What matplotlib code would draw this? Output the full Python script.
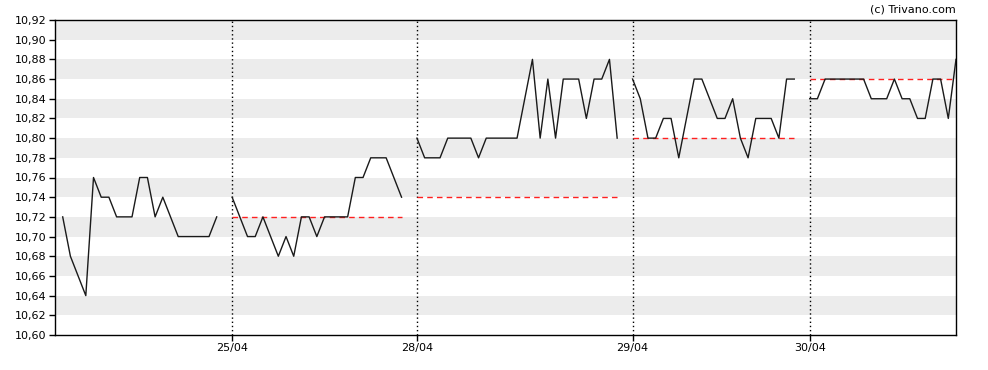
import matplotlib
matplotlib.use("Agg")
import matplotlib.pyplot as plt
import numpy as np

# intraday prices, one list per trading day
day_labels = ["24/04", "25/04", "28/04", "29/04", "30/04"]
day1 = [10.72, 10.68, 10.66, 10.64, 10.76, 10.74, 10.74, 10.72, 10.72, 10.72, 10.76,
        10.76, 10.72, 10.74, 10.72, 10.70, 10.70, 10.70, 10.70, 10.70, 10.72]
day2 = [10.74, 10.72, 10.70, 10.70, 10.72, 10.70, 10.68, 10.70, 10.68, 10.72, 10.72,
        10.70, 10.72, 10.72, 10.72, 10.72, 10.76, 10.76, 10.78, 10.78, 10.78, 10.76, 10.74]
day3 = [10.80, 10.78, 10.78, 10.78, 10.80, 10.80, 10.80, 10.80, 10.78, 10.80, 10.80,
        10.80, 10.80, 10.80, 10.84, 10.88, 10.80, 10.86, 10.80, 10.86, 10.86, 10.86,
        10.82, 10.86, 10.86, 10.88, 10.80]
day4 = [10.86, 10.84, 10.80, 10.80, 10.82, 10.82, 10.78, 10.82, 10.86, 10.86, 10.84,
        10.82, 10.82, 10.84, 10.80, 10.78, 10.82, 10.82, 10.82, 10.80, 10.86, 10.86]
day5 = [10.84, 10.84, 10.86, 10.86, 10.86, 10.86, 10.86, 10.86, 10.84, 10.84, 10.84,
        10.86, 10.84, 10.84, 10.82, 10.82, 10.86, 10.86, 10.82, 10.88]
days = [day1, day2, day3, day4, day5]

fig = plt.figure(figsize=(9.88, 3.7), dpi=100)
ax = fig.add_axes([55 / 988, 1 - 335 / 370, (956 - 55) / 988, (335 - 20) / 370])

# build one series with a NaN slot between days
ys = []
starts = []
for d in days:
    starts.append(len(ys))
    ys.extend(d)
    ys.append(np.nan)
ys = ys[:-1]
xs = np.arange(len(ys))

ymin, ymax = 10.60, 10.92
# alternating bands
for lo in np.arange(10.62, 10.92, 0.04):
    ax.axhspan(lo, lo + 0.02, color="#ececec", lw=0, zorder=0)

ax.plot(xs, ys, color="#1a1a1a", lw=1, zorder=3)

# previous close reference lines
for i in range(1, len(days)):
    s = starts[i]
    e = s + len(days[i]) - 1
    ax.hlines(days[i - 1][-1], s, e, colors="#ff2020", lw=1,
              linestyles=(0, (4, 3)), zorder=2)

# day separators
for s in starts[1:]:
    ax.axvline(s, color="black", lw=1, linestyle=(0, (1, 2)), zorder=1)

ax.set_xlim(-1, len(ys) - 1)
ax.set_ylim(ymin, ymax)
ax.set_yticks(np.round(np.arange(10.60, 10.921, 0.02), 2))
ax.set_yticklabels([f"{v:.2f}".replace(".", ",") for v in np.arange(10.60, 10.921, 0.02)])
ax.set_xticks(starts[1:])
ax.set_xticklabels(day_labels[1:])
ax.tick_params(labelsize=8, length=4, width=1, colors="black", pad=2)
for sp in ax.spines.values():
    sp.set_linewidth(1)

fig.text(956 / 988, 1 - 9 / 370, "(c) Trivano.com", ha="right", va="center", fontsize=8)

fig.savefig("out.png", dpi=100)
